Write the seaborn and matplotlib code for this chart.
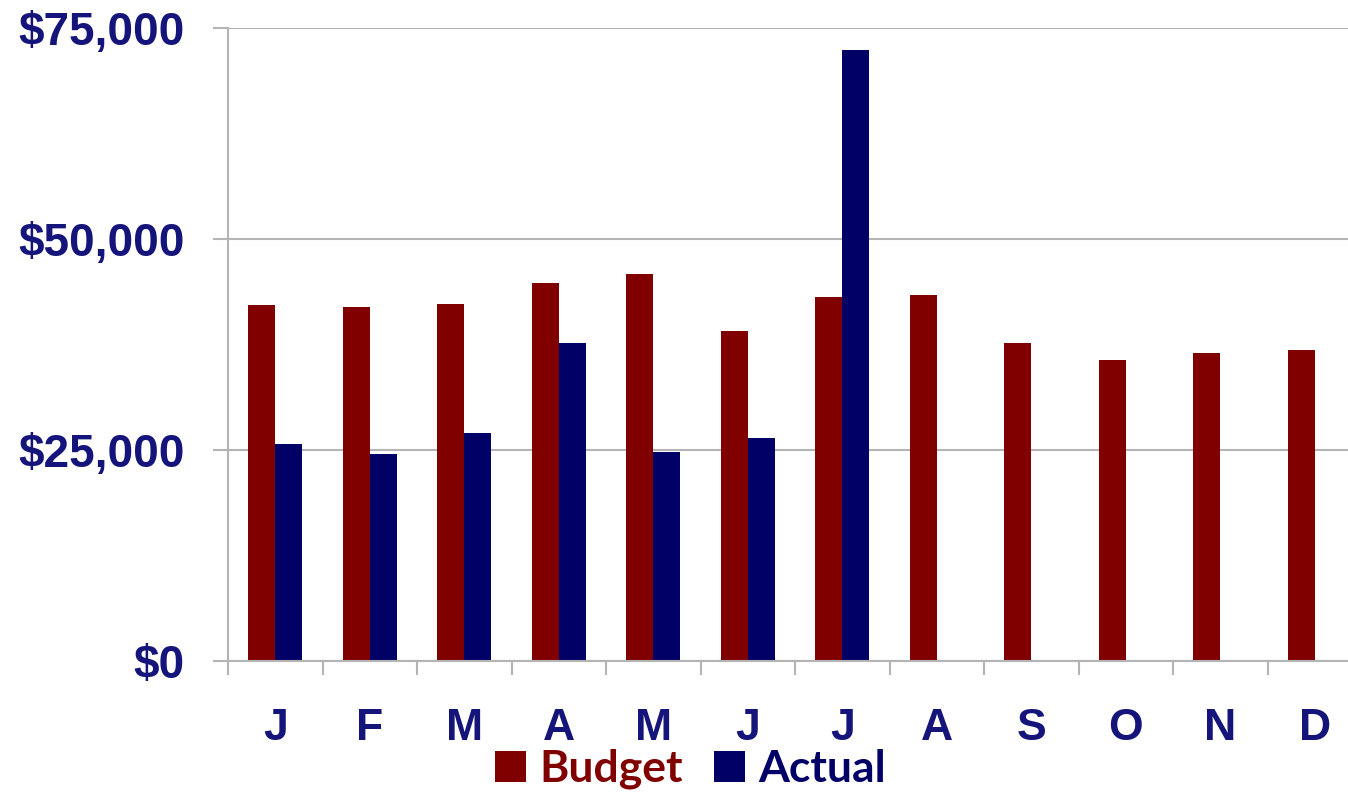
import matplotlib
matplotlib.use("Agg")
import matplotlib.pyplot as plt
from matplotlib.patches import Patch
from matplotlib.ticker import FuncFormatter, FixedLocator
import seaborn as sns
import pandas as pd
import numpy as np

months = ["J", "F", "M", "A", "M", "J", "J", "A", "S", "O", "N", "D"]
budget = [42200, 41900, 42300, 44800, 45900, 39100, 43100, 43400, 37700, 35700, 36500, 36800]
actual = [25700, 24500, 27000, 37700, 24800, 26400, 72400]
series = ["Budget", "Actual"]
colors = ["#800000", "#000066"]
text_navy = "#14147a"
grid_gray = "#b4b4b4"

# long-format table: month index, series, value (actual only for months reported so far)
rows = []
for i, v in enumerate(budget):
    rows.append({"idx": i, "series": "Budget", "value": v})
for i, v in enumerate(actual):
    rows.append({"idx": i, "series": "Actual", "value": v})
df = pd.DataFrame(rows)

sns.set_theme(style="white")
plt.rcParams["font.family"] = ["Liberation Sans", "DejaVu Sans"]

fig = plt.figure(figsize=(13.48, 7.93), dpi=100)
ax = fig.add_axes([228 / 1348, 1 - 661 / 793, 1134 / 1348, (661 - 28) / 793])

sns.barplot(data=df, x="idx", y="value", hue="series", hue_order=series,
            order=list(range(12)), palette=colors, width=0.57, linewidth=0,
            saturation=1, errorbar=None, legend=False, ax=ax)

ax.set_xlim(-0.5, 11.5)
ax.set_ylim(0, 75000)
ax.set_xlabel("")
ax.set_ylabel("")

# y axis
ax.yaxis.set_major_locator(FixedLocator([0, 25000, 50000, 75000]))
ax.yaxis.set_major_formatter(FuncFormatter(lambda v, p: f"${v:,.0f}"))
ax.grid(axis="y", color=grid_gray, linewidth=1.5)
ax.set_axisbelow(True)
ax.tick_params(axis="y", which="major", direction="out", length=11, width=1.5,
               color=grid_gray, pad=20, labelsize=33, labelcolor=text_navy, left=True)

# x axis: labels at month centres, tick marks at month boundaries
ax.set_xticks(range(12))
ax.set_xticklabels(months)
ax.set_xticks(np.arange(-0.5, 12, 1.0), minor=True)
ax.tick_params(axis="x", which="major", length=0, pad=34, labelsize=32,
               labelcolor=text_navy)
ax.tick_params(axis="x", which="minor", direction="out", length=10, width=1.5,
               color=grid_gray, bottom=True)
for lab in ax.get_xticklabels() + ax.get_yticklabels():
    lab.set_fontweight("bold")

for side in ["top", "right"]:
    ax.spines[side].set_visible(False)
for side in ["left", "bottom"]:
    ax.spines[side].set_color(grid_gray)
    ax.spines[side].set_linewidth(1.5)

handles = [Patch(facecolor=c, edgecolor="none") for c in colors]
leg = fig.legend(handles, series, loc="center", bbox_to_anchor=(0.512, 0.03),
                 ncol=2, frameon=False, handlelength=0.7, handleheight=0.7,
                 handletextpad=0.3, columnspacing=0.7, borderpad=0.1,
                 prop={"family": "Lato", "weight": "bold", "size": 32})
for t, c in zip(leg.get_texts(), colors):
    t.set_color(c)

fig.savefig("out.png", dpi=100)
